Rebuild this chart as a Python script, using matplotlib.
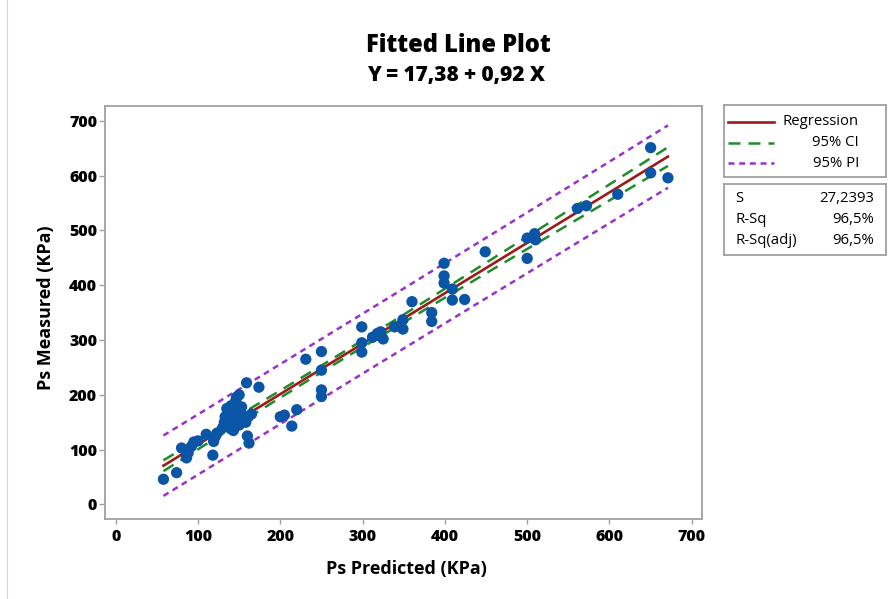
import numpy as np
import matplotlib
matplotlib.use("Agg")
import matplotlib.pyplot as plt
from matplotlib.lines import Line2D

# ---------------- data ----------------
ps_predicted = [58, 74, 80, 86, 88, 92, 95, 100, 110, 118, 119, 121, 123,
                130, 132, 133, 135, 136, 138, 140, 140, 142, 143, 145, 146,
                147, 148, 150, 150, 152, 153, 155, 158, 159, 160, 162, 161,
                165, 174, 200, 205, 214, 220, 231, 250, 250, 250, 250,
                299, 299, 299, 312, 318, 320, 325, 322, 339, 349, 349, 360,
                384, 384, 399, 399, 399, 409, 409, 424, 449, 500, 500, 509,
                510, 561, 572, 610, 650, 650, 671]
ps_measured = [46, 58, 103, 85, 94, 106, 114, 116, 128, 90, 115, 124, 130,
               140, 150, 160, 175, 148, 165, 180, 138, 155, 135, 170, 190,
               196, 160, 145, 200, 168, 178, 155, 150, 222, 125, 112, 160,
               165, 214, 160, 163, 143, 173, 265, 279, 245, 209, 197,
               324, 295, 278, 305, 312, 308, 302, 315, 324, 337, 320, 370,
               350, 334, 440, 417, 404, 393, 373, 374, 461, 449, 486, 494,
               483, 540, 545, 566, 651, 605, 596]

intercept = 17.38
slope = 0.92
s_value = 27.2393
t_crit = 1.991

title_text = "Fitted Line Plot"
subtitle_text = "Y = 17,38 + 0,92 X"
xlabel_text = "Ps Predicted (KPa)"
ylabel_text = "Ps Measured (KPa)"
x_ticks = [0, 100, 200, 300, 400, 500, 600, 700]
y_ticks = [0, 100, 200, 300, 400, 500, 600, 700]
legend_labels = ["Regression", "95% CI", "95% PI"]
stats_labels = ["S", "R-Sq", "R-Sq(adj)"]
stats_values = ["27,2393", "96,5%", "96,5%"]

# ---------------- style ----------------
plt.rcParams['font.family'] = ['Open Sans', 'DejaVu Sans']
plt.rcParams['lines.scale_dashes'] = False

W, H = 893, 599
fig = plt.figure(figsize=(W / 100, H / 100), dpi=100)
fig.patch.set_facecolor('white')

def fx(px):
    return px / W

def fy(py):
    return 1 - py / H

RED = '#9c1a1a'
GREEN = '#1e8c2a'
PURPLE = '#9932cc'
BLUE = '#0a55a5'
FRAME = '#a0a0a0'

# faint window border at the left
fig.add_artist(Line2D([fx(7), fx(7)], [0, 1], color='#d6d6d6', lw=0.8))

ax_l, ax_r, ax_t, ax_b = 104.5, 702, 106, 519
ax = fig.add_axes([fx(ax_l), fy(ax_b), (ax_r - ax_l) / W, (ax_b - ax_t) / H])
ax.set_xlim(-13.6, 712.4)
ax.set_ylim(-26.5, 727)

x = np.array(ps_predicted, dtype=float)
y = np.array(ps_measured, dtype=float)
n = len(x)
xbar = x.mean()
sxx = ((x - xbar) ** 2).sum()

xl = np.linspace(x.min(), x.max(), 200)
yl = intercept + slope * xl
ci = t_crit * s_value * np.sqrt(1.0 / n + (xl - xbar) ** 2 / sxx)
pi = t_crit * s_value * np.sqrt(1 + 1.0 / n + (xl - xbar) ** 2 / sxx)

ci_style = dict(color=GREEN, lw=1.8, linestyle=(0, (8.6, 5.8)))
pi_style = dict(color=PURPLE, lw=1.8, linestyle=(0, (4.3, 3.4)))
reg_style = dict(color=RED, lw=1.9, linestyle='-')

ax.scatter(x, y, s=66, color=BLUE, edgecolors='none', zorder=3)
ax.plot(xl, yl + pi, **pi_style, zorder=2)
ax.plot(xl, yl - pi, **pi_style, zorder=2)
ax.plot(xl, yl + ci, **ci_style, zorder=2)
ax.plot(xl, yl - ci, **ci_style, zorder=2)
ax.plot(xl, yl, **reg_style, zorder=2.5)

for sp in ax.spines.values():
    sp.set_color(FRAME)
    sp.set_linewidth(1.3)

ax.set_xticks(x_ticks)
ax.set_yticks(y_ticks)
ax.set_xticklabels([str(v) for v in x_ticks])
ax.set_yticklabels([str(v) for v in y_ticks])
ax.tick_params(axis='x', direction='out', length=3.8, width=1.0, color=FRAME,
               pad=3.5, labelsize=11.5)
ax.tick_params(axis='y', direction='out', length=4.3, width=1.0, color=FRAME,
               pad=1.0, labelsize=11.5)
for lab in ax.get_xticklabels() + ax.get_yticklabels():
    lab.set_fontweight(800)

# titles and axis labels
fig.text(fx(458), fy(46), title_text, ha='center', va='center',
         fontsize=17, fontweight=800)
fig.text(fx(456), fy(76), subtitle_text, ha='center', va='center',
         fontsize=15, fontweight=800)
fig.text(fx(406), fy(574), xlabel_text, ha='center', va='baseline',
         fontsize=13, fontweight='bold')
fig.text(fx(46), fy(308), ylabel_text, ha='center', va='center',
         rotation=90, fontsize=13, fontweight='bold')

# legend box
lx0, lx1, ly0, ly1 = 724, 886, 105, 177
lax = fig.add_axes([fx(lx0), fy(ly1), (lx1 - lx0) / W, (ly1 - ly0) / H])
lax.set_xlim(lx0, lx1)
lax.set_ylim(ly1, ly0)
lax.set_xticks([])
lax.set_yticks([])
for sp in lax.spines.values():
    sp.set_color(FRAME)
    sp.set_linewidth(1.3)
rows = [121.7, 142.7, 163.3]
styles = [reg_style, ci_style, pi_style]
for lab, st, ry in zip(legend_labels, styles, rows):
    lax.add_line(Line2D([728, 774], [ry, ry], **st))
    lax.text(859, ry, lab, ha='right', va='center', fontsize=10.7)

# stats box
sx0, sx1, sy0, sy1 = 724, 886, 184, 255
sax = fig.add_axes([fx(sx0), fy(sy1), (sx1 - sx0) / W, (sy1 - sy0) / H])
sax.set_xlim(sx0, sx1)
sax.set_ylim(sy1, sy0)
sax.set_xticks([])
sax.set_yticks([])
for sp in sax.spines.values():
    sp.set_color(FRAME)
    sp.set_linewidth(1.3)
srows = [199, 219.5, 240.5]
for lab, val, ry in zip(stats_labels, stats_values, srows):
    sax.text(735, ry, lab, ha='left', va='center', fontsize=10.7)
    sax.text(874, ry, val, ha='right', va='center', fontsize=10.7)

fig.savefig('out.png', dpi=100, facecolor='white')
